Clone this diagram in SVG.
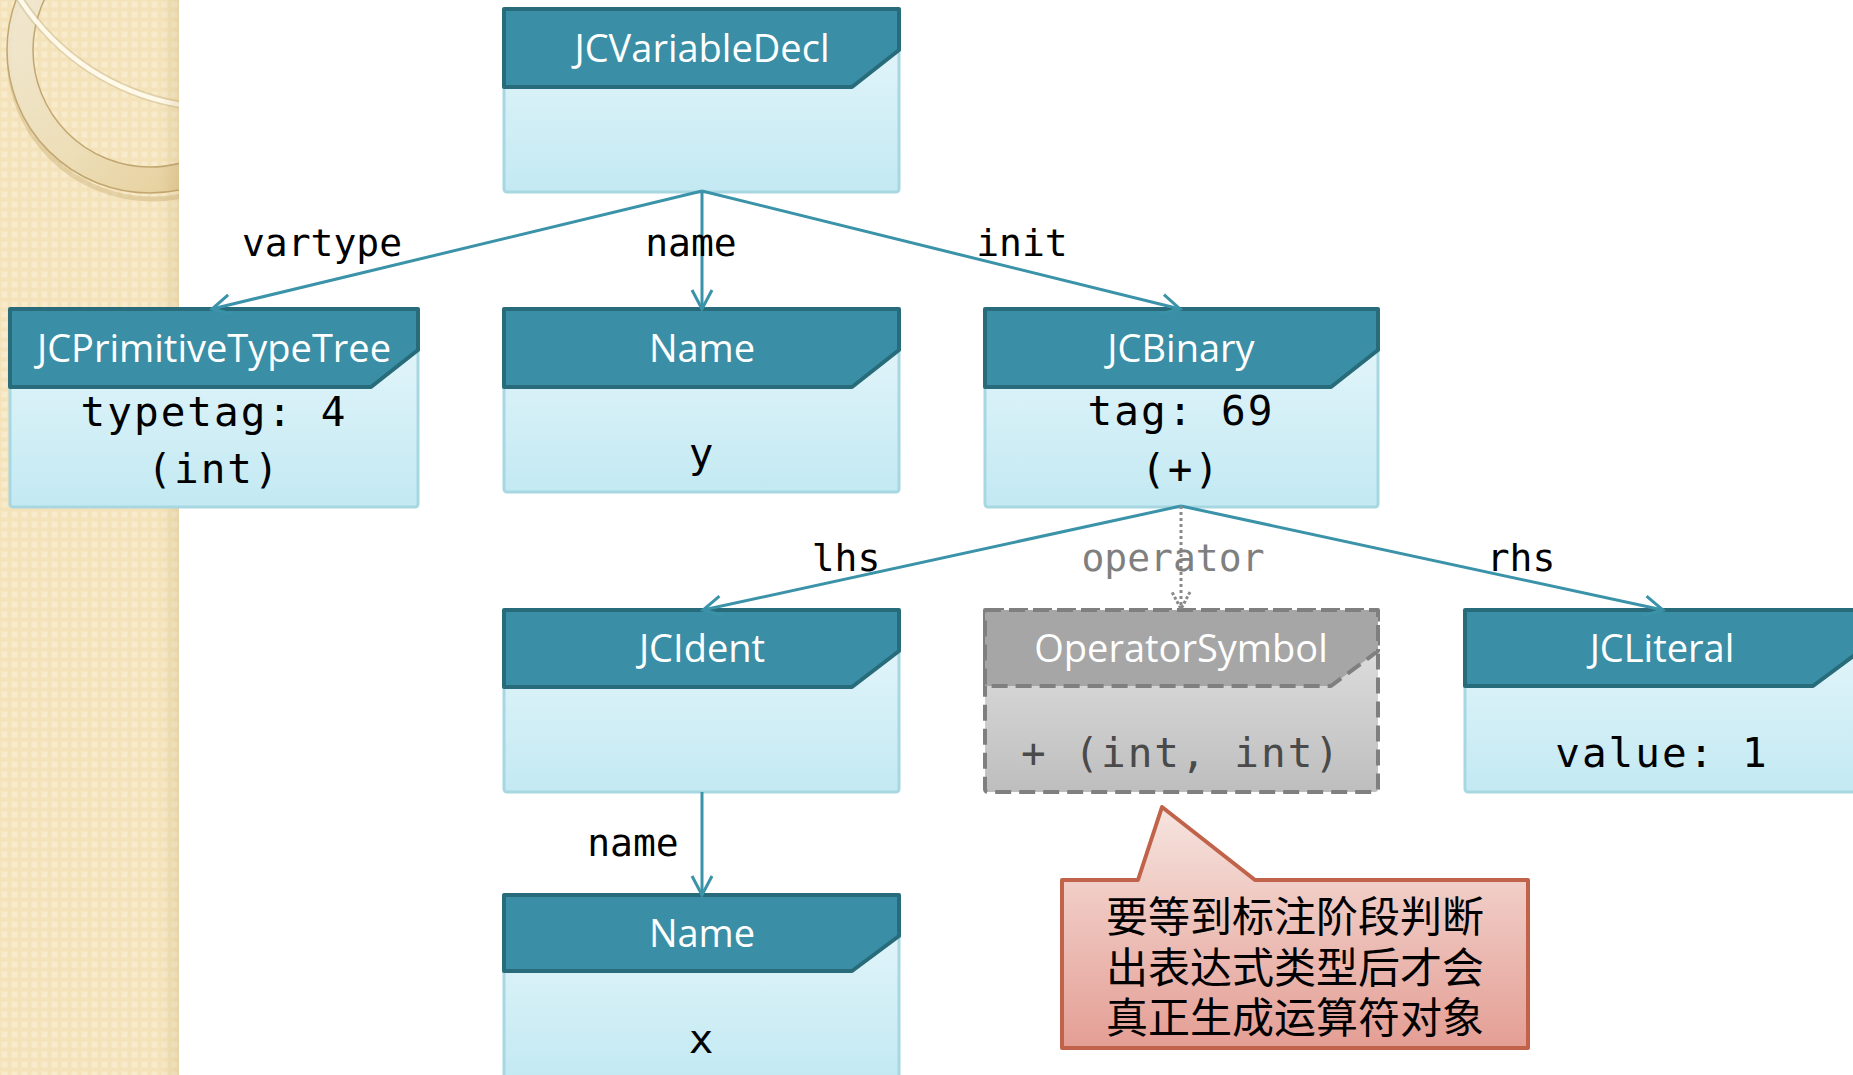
<svg xmlns="http://www.w3.org/2000/svg" width="1853" height="1075" viewBox="0 0 1853 1075">
  <style>
    .title { font-family: "Open Sans", "Noto Sans", sans-serif; font-size: 38px; fill: #ffffff; text-anchor: middle; }
    .body { font-family: "DejaVu Sans Mono", "Liberation Mono", monospace; font-size: 41px; fill: #000000; text-anchor: middle; letter-spacing: 2px; }
    .label { font-family: "DejaVu Sans Mono", "Liberation Mono", monospace; font-size: 38px; fill: #000000; text-anchor: middle; }
    .head { fill: #3A8FA6; stroke: #286B7B; stroke-width: 4; stroke-linejoin: round; }
    .box { fill: url(#bodyGrad); stroke: #A7D7E1; stroke-width: 3; }
    .edge { fill: none; stroke: #3A93A8; stroke-width: 3; }
    .ghost-head { fill: #A6A6A6; stroke: #7F7F7F; stroke-width: 4; stroke-dasharray: 16 8; stroke-linejoin: round; }
    .ghost-box { fill: url(#greyGrad); stroke: #7F7F7F; stroke-width: 4; stroke-dasharray: 16 8; }
  </style>
  <defs>
    <linearGradient id="bodyGrad" x1="0" y1="0" x2="0" y2="1">
      <stop offset="0" stop-color="#E8F7FB"/>
      <stop offset="1" stop-color="#C3E9F3"/>
    </linearGradient>
    <linearGradient id="greyGrad" x1="0" y1="0" x2="0" y2="1">
      <stop offset="0" stop-color="#E4E4E4"/>
      <stop offset="1" stop-color="#BEBEBE"/>
    </linearGradient>
    <linearGradient id="noteGrad" x1="0" y1="0" x2="0" y2="1">
      <stop offset="0" stop-color="#F6E4DF"/>
      <stop offset="1" stop-color="#E49E94"/>
    </linearGradient>
    <linearGradient id="ringGrad" x1="0" y1="0" x2="1" y2="1">
      <stop offset="0" stop-color="#F2ECDD"/>
      <stop offset="0.55" stop-color="#ECDDB6"/>
      <stop offset="1" stop-color="#DFC184"/>
    </linearGradient>
    <linearGradient id="edgeShade" x1="0" y1="0" x2="1" y2="0">
      <stop offset="0" stop-color="#B89B60" stop-opacity="0"/>
      <stop offset="1" stop-color="#B89B60" stop-opacity="0.22"/>
    </linearGradient>
    <pattern id="weave" width="10" height="10" patternUnits="userSpaceOnUse">
      <rect width="10" height="10" fill="#F4E3BA"/>
      <rect x="1.5" y="1.5" width="6" height="6" fill="#F8EBCB"/>
    </pattern>
    <clipPath id="stripClip">
      <rect x="0" y="0" width="179" height="1075"/>
    </clipPath>
    <marker id="arrow" markerUnits="userSpaceOnUse" markerWidth="30" markerHeight="30" viewBox="-25 -15 30 30" refX="0" refY="0" orient="auto">
      <path d="M-19,-10 L0,0 L-19,10" fill="none" stroke="#3A93A8" stroke-width="3"/>
    </marker>
    <marker id="arrowGrey" markerUnits="userSpaceOnUse" markerWidth="30" markerHeight="30" viewBox="-25 -15 30 30" refX="0" refY="0" orient="auto">
      <path d="M-17,-9 L0,0 L-17,9" fill="none" stroke="#8A8A8A" stroke-width="3" stroke-dasharray="3 2"/>
    </marker>
  </defs>

  <rect width="1853" height="1075" fill="#FFFFFF"/>

  <!-- decorative side strip -->
  <g id="strip" clip-path="url(#stripClip)">
    <rect x="0" y="0" width="179" height="1075" fill="url(#weave)"/>
    <path d="M293,52 A143,143 0 1 0 7,52 A143,143 0 1 0 293,52 Z" fill="none" stroke="#BFA26A" stroke-width="5" opacity="0.35" transform="translate(2,4)"/>
    <path d="M293,50 A143,143 0 1 0 7,50 A143,143 0 1 0 293,50 Z M267,50 A117,117 0 1 1 33,50 A117,117 0 1 1 267,50 Z" fill="url(#ringGrad)" fill-rule="evenodd" fill-opacity="0.92" stroke="#C2A670" stroke-width="1.5"/>
    <circle cx="220" cy="-130" r="238" fill="none" stroke="#C8B488" stroke-width="8" opacity="0.45"/>
    <circle cx="220" cy="-130" r="238" fill="none" stroke="#FFF9EA" stroke-width="4.5"/>
    <rect x="160" y="0" width="19" height="1075" fill="url(#edgeShade)"/>
  </g>

  <!-- tree nodes -->
  <g id="node-variabledecl">
    <rect class="box" x="504" y="9" width="395" height="183" rx="3"/>
    <path class="head" d="M504,9 H899 V50 L852,87 H504 Z"/>
    <text class="title" x="702" y="62">JCVariableDecl</text>
  </g>

  <g id="node-primitivetype">
    <rect class="box" x="10" y="309" width="408" height="198" rx="3"/>
    <path class="head" d="M10,309 H418 V350 L371,387 H10 Z"/>
    <text class="title" x="214" y="362">JCPrimitiveTypeTree</text>
    <text class="body" x="214" y="426">typetag: 4</text>
    <text class="body" x="214" y="483">(int)</text>
  </g>

  <g id="node-name-y">
    <rect class="box" x="504" y="309" width="395" height="183" rx="3"/>
    <path class="head" d="M504,309 H899 V350 L852,387 H504 Z"/>
    <text class="title" x="702" y="362">Name</text>
    <text class="body" x="702" y="467">y</text>
  </g>

  <g id="node-binary">
    <rect class="box" x="985" y="309" width="393" height="198" rx="3"/>
    <path class="head" d="M985,309 H1378 V350 L1331,387 H985 Z"/>
    <text class="title" x="1181" y="362">JCBinary</text>
    <text class="body" x="1181" y="425">tag: 69</text>
    <text class="body" x="1181" y="483">(+)</text>
  </g>

  <g id="node-ident">
    <rect class="box" x="504" y="610" width="395" height="182" rx="3"/>
    <path class="head" d="M504,610 H899 V651 L852,687 H504 Z"/>
    <text class="title" x="702" y="662">JCIdent</text>
  </g>

  <g id="node-operator">
    <rect class="ghost-box" x="985" y="610" width="393" height="182" rx="3"/>
    <path class="ghost-head" d="M985,610 H1378 V651 L1331,686 H985 Z"/>
    <text class="title" x="1181" y="662">OperatorSymbol</text>
    <text class="body" x="1181" y="767" style="fill:#4A4A4A">+ (int, int)</text>
  </g>

  <g id="node-literal">
    <rect class="box" x="1465" y="610" width="395" height="182" rx="3"/>
    <path class="head" d="M1465,610 H1860 V651 L1813,686 H1465 Z"/>
    <text class="title" x="1662" y="662">JCLiteral</text>
    <text class="body" x="1662" y="767">value: 1</text>
  </g>

  <g id="node-name-x">
    <rect class="box" x="504" y="895" width="395" height="183" rx="3"/>
    <path class="head" d="M504,895 H899 V936 L852,971 H504 Z"/>
    <text class="title" x="702" y="947">Name</text>
    <text class="body" x="702" y="1053">x</text>
  </g>

  <!-- connectors -->
  <g id="connectors">
    <line class="edge" x1="702" y1="191" x2="212" y2="309" marker-end="url(#arrow)"/>
    <line class="edge" x1="702" y1="191" x2="702" y2="309" marker-end="url(#arrow)"/>
    <line class="edge" x1="702" y1="191" x2="1180" y2="309" marker-end="url(#arrow)"/>
    <line class="edge" x1="1181" y1="506" x2="703" y2="610" marker-end="url(#arrow)"/>
    <line class="edge" x1="1181" y1="506" x2="1663" y2="610" marker-end="url(#arrow)"/>
    <line x1="1181" y1="506" x2="1181" y2="609" fill="none" stroke="#8A8A8A" stroke-width="3" stroke-dasharray="3 3" marker-end="url(#arrowGrey)"/>
    <line class="edge" x1="702" y1="792" x2="702" y2="895" marker-end="url(#arrow)"/>
  </g>

  <!-- connector labels -->
  <g id="labels">
    <text class="label" x="322" y="256">vartype</text>
    <text class="label" x="691" y="256">name</text>
    <text class="label" x="1022" y="256">init</text>
    <text class="label" x="846" y="571">lhs</text>
    <text class="label" x="1173" y="571" style="fill:#7F7F7F">operator</text>
    <text class="label" x="1521" y="571">rhs</text>
    <text class="label" x="633" y="856">name</text>
  </g>

  <!-- callout note -->
  <g id="note">
    <path d="M1062,880 L1138,880 L1162,807 L1255,880 L1528,880 L1528,1048 L1062,1048 Z" fill="url(#noteGrad)" stroke="#C0634A" stroke-width="4" stroke-linejoin="round"/>
    <g font-family="'Noto Sans CJK SC', 'Noto Sans CJK TC', sans-serif" font-size="42" fill="#000000" text-anchor="middle">
      <text x="1295" y="932">要等到标注阶段判断</text>
      <text x="1295" y="983">出表达式类型后才会</text>
      <text x="1295" y="1033">真正生成运算符对象</text>
    </g>
  </g>
</svg>
